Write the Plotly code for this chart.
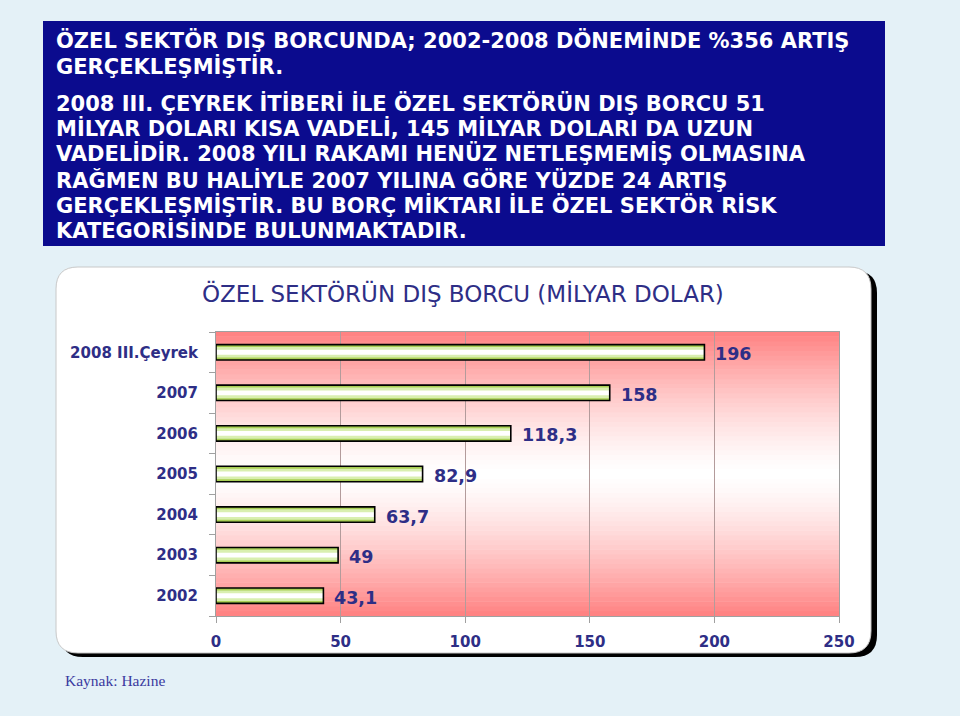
import plotly.graph_objects as go

# ---------------- data ----------------
categories = ["2002", "2003", "2004", "2005", "2006", "2007", "2008 III.Çeyrek"]
debt_values = [43.1, 49, 63.7, 82.9, 118.3, 158, 196]
value_labels = ["43,1", "49", "63,7", "82,9", "118,3", "158", "196"]
x_ticks = [0, 50, 100, 150, 200, 250]

chart_title = "ÖZEL SEKTÖRÜN DIŞ BORCU (MİLYAR DOLAR)"
source_text = "Kaynak: Hazine"
box_lines = [
    "ÖZEL SEKTÖR DIŞ BORCUNDA; 2002-2008 DÖNEMİNDE %356 ARTIŞ",
    "GERÇEKLEŞMİŞTİR.",
    "2008 III. ÇEYREK İTİBERİ İLE ÖZEL SEKTÖRÜN DIŞ BORCU 51",
    "MİLYAR DOLARI KISA VADELİ, 145 MİLYAR DOLARI DA UZUN",
    "VADELİDİR. 2008 YILI RAKAMI HENÜZ NETLEŞMEMİŞ OLMASINA",
    "RAĞMEN BU HALİYLE 2007 YILINA GÖRE YÜZDE 24 ARTIŞ",
    "GERÇEKLEŞMİŞTİR. BU BORÇ MİKTARI İLE ÖZEL SEKTÖR RİSK",
    "KATEGORİSİNDE BULUNMAKTADIR.",
]
box_line_y = [40, 66, 103, 128, 154, 180, 205, 230]

# ---------------- layout geometry (pixels) ----------------
W, H = 960, 716
L, R, T, B = 216, 839, 332, 616
NAVY = "#2e2e86"

y_pos = list(range(len(categories)))
boundaries = [i - 0.5 for i in range(len(categories) + 1)]


def px(X):
    return (X - L) / (R - L)


def py(Y):
    return (B - Y) / (B - T)


def rrect(x0, y0, x1, y1, r):
    pts = [
        ("M", [(x0 + r, y0)]),
        ("L", [(x1 - r, y0)]),
        ("Q", [(x1, y0), (x1, y0 + r)]),
        ("L", [(x1, y1 - r)]),
        ("Q", [(x1, y1), (x1 - r, y1)]),
        ("L", [(x0 + r, y1)]),
        ("Q", [(x0, y1), (x0, y1 - r)]),
        ("L", [(x0, y0 + r)]),
        ("Q", [(x0, y0), (x0 + r, y0)]),
    ]
    s = ""
    for cmd, ps in pts:
        s += cmd + " " + " ".join(f"{px(a):.5f},{py(b):.5f}" for a, b in ps) + " "
    return s + "Z"


shapes = []
# shadow + white chart panel
shapes.append(dict(type="path", xref="paper", yref="paper", layer="below",
                   path=rrect(61, 271, 877, 657, 22), fillcolor="black", line=dict(width=0)))
shapes.append(dict(type="path", xref="paper", yref="paper", layer="below",
                   path=rrect(56, 267, 871, 653, 22), fillcolor="white",
                   line=dict(color="#c8c8c8", width=1)))

# gradient plot background (red - white - red)
N = 60
for i in range(N):
    t = (i + 0.5) / N
    d = abs(2 * t - 1) ** 1.4
    g = int(round(255 - (255 - 128) * d))
    shapes.append(dict(type="rect", xref="x domain", yref="y domain", layer="below",
                       x0=0, x1=1, y0=i / N, y1=(i + 1) / N + 0.002,
                       fillcolor=f"rgb(255,{g},{g})", line=dict(width=0)))

# blue text box
shapes.append(dict(type="rect", xref="paper", yref="paper", layer="below",
                   x0=px(43), x1=px(885), y0=py(21), y1=py(246),
                   fillcolor="#0b0b8e", line=dict(width=0)))

annotations = []
for txt, yy in zip(box_lines, box_line_y):
    annotations.append(dict(text=txt, xref="paper", yref="paper", x=px(54), y=py(yy),
                            xanchor="left", yanchor="middle", showarrow=False,
                            font=dict(family="DejaVu Sans", size=21, color="white", weight="bold")))

annotations.append(dict(text=chart_title, xref="paper", yref="paper", x=px(463), y=py(293),
                        xanchor="center", yanchor="middle", showarrow=False,
                        font=dict(family="DejaVu Sans", size=23, color=NAVY)))
annotations.append(dict(text=source_text, xref="paper", yref="paper", x=px(63), y=py(680),
                        xanchor="left", yanchor="middle", showarrow=False,
                        font=dict(family="Liberation Serif", size=15.5, color="#3a3aa0")))

# value labels
for yp, v, lab in zip(y_pos, debt_values, value_labels):
    annotations.append(dict(text=lab, x=v, y=yp, xref="x", yref="y", xanchor="left",
                            yanchor="middle", xshift=9, yshift=-2, showarrow=False,
                            font=dict(family="DejaVu Sans", size=17.5, color=NAVY, weight="bold")))

fig = go.Figure()
# layered bars to imitate the green-white gradient
fig.add_trace(go.Bar(y=y_pos, x=debt_values, orientation="h", width=0.38,
                     marker=dict(color="#a9cf55", line=dict(width=0)), hoverinfo="skip"))
fig.add_trace(go.Bar(y=y_pos, x=debt_values, orientation="h", width=0.26,
                     marker=dict(color="#d9efb0", line=dict(width=0)), hoverinfo="skip"))
fig.add_trace(go.Bar(y=y_pos, x=debt_values, orientation="h", width=0.12,
                     marker=dict(color="#ffffff", line=dict(width=0)), hoverinfo="skip"))
fig.add_trace(go.Bar(y=y_pos, x=debt_values, orientation="h", width=0.38,
                     marker=dict(color="rgba(0,0,0,0)", line=dict(color="black", width=1.6)),
                     hoverinfo="skip"))

fig.update_layout(
    width=W, height=H,
    margin=dict(l=L, r=W - R, t=T, b=H - B, pad=0),
    paper_bgcolor="#e4f1f7",
    plot_bgcolor="white",
    barmode="overlay",
    showlegend=False,
    shapes=shapes,
    annotations=annotations,
    xaxis=dict(range=[0, 250], tickvals=x_ticks, showgrid=True, gridcolor="#b39b9b",
               gridwidth=1, zeroline=False, showline=True, linecolor="#a0a0a0", mirror=True,
               ticks="outside", ticklen=6, tickcolor="#a0a0a0", ticklabelstandoff=6,
               tickfont=dict(family="DejaVu Sans", size=15, color=NAVY, weight="bold"),
               fixedrange=True),
    yaxis=dict(range=[boundaries[0], boundaries[-1]], tickvals=y_pos, ticktext=categories,
               showgrid=False, zeroline=False, showline=True, linecolor="#a0a0a0", mirror=True,
               ticks="", ticklabelstandoff=14,
               minor=dict(tickvals=boundaries, ticks="outside", ticklen=6, tickcolor="#a0a0a0",
                          showgrid=False),
               tickfont=dict(family="DejaVu Sans", size=15, color=NAVY, weight="bold"),
               fixedrange=True),
)

fig.write_html("out.html", config={"displayModeBar": False},
               post_script="document.body.style.margin='0';")
